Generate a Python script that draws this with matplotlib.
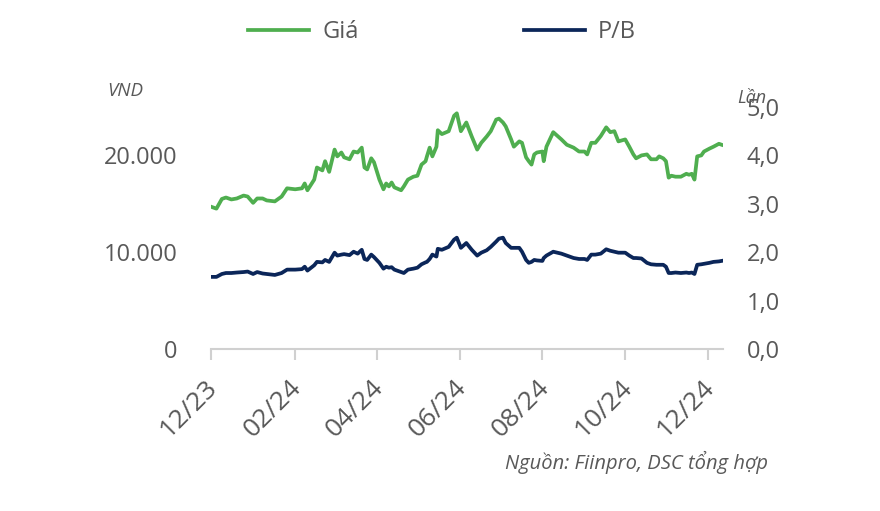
import matplotlib
matplotlib.use("Agg")
import matplotlib.pyplot as plt
import matplotlib.dates as mdates
import matplotlib.transforms as mtransforms
import pandas as pd
from matplotlib.ticker import FuncFormatter, FixedLocator

plt.rcParams['font.family'] = ['Open Sans', 'DejaVu Sans']

GREEN = '#4fae4f'
NAVY = '#0b2659'
GREY = '#595959'
AXIS_GREY = '#d0d0d0'

# du lieu doc tu hinh
dates = [
    '2023-12-01', '2023-12-05', '2023-12-09', '2023-12-12', '2023-12-16', '2023-12-20',
    '2023-12-25', '2023-12-28', '2024-01-01', '2024-01-04', '2024-01-08', '2024-01-11',
    '2024-01-17', '2024-01-22', '2024-01-26', '2024-02-01', '2024-02-06', '2024-02-08',
    '2024-02-10', '2024-02-15', '2024-02-17', '2024-02-21', '2024-02-23', '2024-02-26',
    '2024-03-01', '2024-03-03', '2024-03-06', '2024-03-08', '2024-03-12', '2024-03-15',
    '2024-03-18', '2024-03-21', '2024-03-23', '2024-03-25', '2024-03-28', '2024-03-30',
    '2024-04-03', '2024-04-06', '2024-04-08', '2024-04-10', '2024-04-12', '2024-04-14',
    '2024-04-19', '2024-04-21', '2024-04-24', '2024-04-28', '2024-05-01', '2024-05-04',
    '2024-05-07', '2024-05-08', '2024-05-10', '2024-05-12', '2024-05-15', '2024-05-16',
    '2024-05-19', '2024-05-24', '2024-05-28', '2024-05-30', '2024-06-02', '2024-06-06',
    '2024-06-10', '2024-06-14', '2024-06-17', '2024-06-21', '2024-06-24', '2024-06-28',
    '2024-06-30', '2024-07-03', '2024-07-05', '2024-07-09', '2024-07-11', '2024-07-15',
    '2024-07-17', '2024-07-20', '2024-07-22', '2024-07-24', '2024-07-26', '2024-07-28',
    '2024-08-01', '2024-08-02', '2024-08-04', '2024-08-09', '2024-08-15', '2024-08-19',
    '2024-08-24', '2024-08-28', '2024-09-01', '2024-09-03', '2024-09-06', '2024-09-09',
    '2024-09-13', '2024-09-17', '2024-09-20', '2024-09-23', '2024-09-26', '2024-10-01',
    '2024-10-04', '2024-10-07', '2024-10-09', '2024-10-13', '2024-10-17', '2024-10-20',
    '2024-10-24', '2024-10-26', '2024-10-29', '2024-10-31', '2024-11-02', '2024-11-04',
    '2024-11-07', '2024-11-11', '2024-11-15', '2024-11-17', '2024-11-19', '2024-11-21',
    '2024-11-23', '2024-11-26', '2024-11-28', '2024-12-02', '2024-12-05', '2024-12-09',
    '2024-12-11',
]

gia = [
    14700, 14500, 15500, 15650, 15450, 15550, 15850, 15750, 15100, 15550, 15550, 15350,
    15250, 15750, 16600, 16500, 16600, 17100, 16400, 17500, 18750, 18450, 19400, 18300,
    20600, 19900, 20300, 19800, 19600, 20400, 20300, 20800, 18750, 18550, 19700, 19300,
    17500, 16500, 17100, 16800, 17200, 16700, 16400, 16800, 17500, 17800, 17900, 19050,
    19400, 19900, 20800, 19900, 20900, 22600, 22200, 22500, 24100, 24350, 22500, 23400,
    21950, 20600, 21300, 21950, 22500, 23700, 23800, 23400, 23000, 21650, 20900, 21450,
    21300, 19800, 19400, 19050, 20100, 20300, 20400, 19400, 20900, 22400, 21650, 21100,
    20800, 20400, 20400, 20100, 21300, 21300, 22000, 22900, 22400, 22500, 21450, 21650,
    20900, 20100, 19700, 20000, 20100, 19600, 19600, 19900, 19700, 19400, 17700, 17900,
    17800, 17800, 18100, 18000, 18100, 17500, 19900, 20000, 20400, 20700, 20900, 21200,
    21100,
]

pb = [
    1.49, 1.49, 1.55, 1.57, 1.57, 1.58, 1.59, 1.60, 1.55, 1.59, 1.56, 1.55,
    1.53, 1.57, 1.64, 1.64, 1.65, 1.70, 1.62, 1.73, 1.80, 1.79, 1.84, 1.80,
    1.99, 1.93, 1.95, 1.96, 1.94, 2.01, 1.97, 2.05, 1.86, 1.84, 1.95, 1.90,
    1.78, 1.66, 1.70, 1.68, 1.69, 1.64, 1.59, 1.57, 1.64, 1.66, 1.68, 1.75,
    1.79, 1.80, 1.86, 1.95, 1.91, 2.07, 2.05, 2.11, 2.26, 2.30, 2.09, 2.19,
    2.05, 1.93, 1.99, 2.04, 2.11, 2.22, 2.28, 2.30, 2.19, 2.09, 2.09, 2.09,
    2.01, 1.84, 1.78, 1.80, 1.84, 1.83, 1.82, 1.88, 1.93, 2.01, 1.97, 1.93,
    1.88, 1.86, 1.86, 1.84, 1.95, 1.95, 1.97, 2.06, 2.03, 2.01, 1.99, 1.99,
    1.93, 1.88, 1.88, 1.87, 1.78, 1.75, 1.74, 1.74, 1.74, 1.70, 1.57, 1.57,
    1.58, 1.57, 1.58, 1.57, 1.58, 1.55, 1.74, 1.75, 1.76, 1.78, 1.80, 1.81,
    1.82,
]

x_ticks = ['2023-12-01', '2024-02-01', '2024-04-01', '2024-06-01',
           '2024-08-01', '2024-10-01', '2024-12-01']

x = pd.to_datetime(dates)

fig = plt.figure(figsize=(8.8, 5.11), dpi=100)
ax = fig.add_axes([211 / 880, 1 - 349 / 511, 512 / 880, 242 / 511])
ax2 = ax.twinx()

l1, = ax.plot(x, gia, color=GREEN, lw=2.7, label='Giá')
l2, = ax2.plot(x, pb, color=NAVY, lw=2.7, label='P/B')

ax.set_ylim(0, 25000)
ax.yaxis.set_major_locator(FixedLocator([0, 10000, 20000]))
ax.yaxis.set_major_formatter(FuncFormatter(lambda v, p: f'{int(v):,}'.replace(',', '.')))
ax2.set_ylim(0, 5)
ax2.yaxis.set_major_locator(FixedLocator([0, 1, 2, 3, 4, 5]))
ax2.yaxis.set_major_formatter(FuncFormatter(lambda v, p: f'{v:.1f}'.replace('.', ',')))

ax.set_xlim(pd.Timestamp('2023-12-01'), pd.Timestamp('2024-12-12'))
ax.set_xticks(pd.to_datetime(x_ticks))
ax.xaxis.set_major_formatter(mdates.DateFormatter('%m/%y'))

for a in (ax, ax2):
    for s in ('top', 'left', 'right', 'bottom'):
        a.spines[s].set_visible(False)
ax.spines['bottom'].set_visible(True)
ax.spines['bottom'].set_color(AXIS_GREY)
ax.spines['bottom'].set_linewidth(1.5)

ax.tick_params(axis='y', length=0, pad=24, labelsize=17, labelcolor=GREY)
ax2.tick_params(axis='y', length=0, pad=17, labelsize=17, labelcolor=GREY)
ax.tick_params(axis='x', length=8, width=1.5, color=AXIS_GREY, direction='out',
               pad=11, labelsize=19, labelcolor=GREY)
shift = mtransforms.ScaledTranslation(-6 / 100, 0, fig.dpi_scale_trans)
for lbl in ax.get_xticklabels():
    lbl.set_rotation(45)
    lbl.set_ha('right')
    lbl.set_va('top')
    lbl.set_rotation_mode('anchor')
    lbl.set_transform(lbl.get_transform() + shift)

fig.text(107 / 880, 1 - 91 / 511, 'VND', fontsize=13.5, style='italic', color=GREY, va='center')
fig.text(737 / 880, 1 - 98 / 511, 'Lần', fontsize=13, style='italic', color=GREY, va='center')
fig.text(768 / 880, 1 - 462 / 511, 'Nguồn: Fiinpro, DSC tổng hợp', fontsize=14.5,
         style='italic', color=GREY, ha='right', va='center')

fig.legend(handles=[l1, l2], loc='center', bbox_to_anchor=(442 / 880, 1 - 32 / 511),
           ncol=2, frameon=False, fontsize=17, labelcolor=GREY, handlelength=2.6,
           handletextpad=0.55, columnspacing=7.0)

fig.savefig('out.png', dpi=100)
